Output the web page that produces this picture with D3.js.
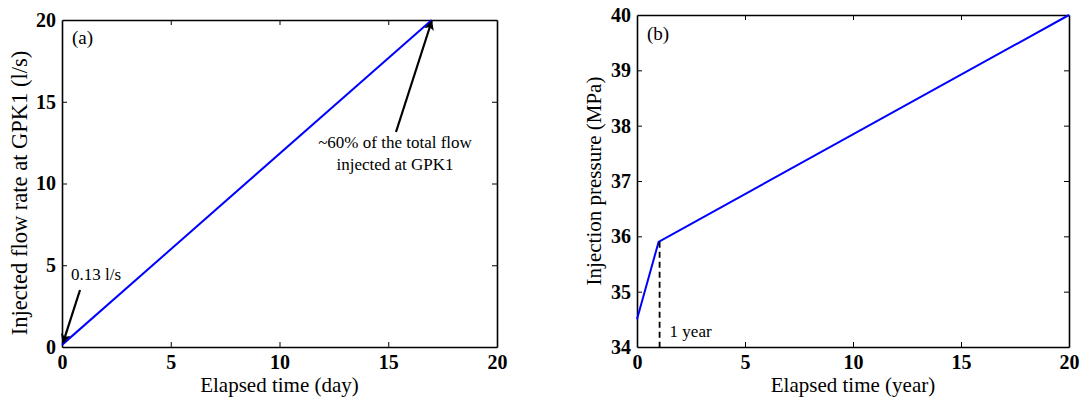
<!DOCTYPE html>
<html>
<head>
<meta charset="utf-8">
<script src="https://d3js.org/d3.v7.min.js"></script>
<style>
  body { margin: 0; background: #fff; }
  svg { display: block; }
  svg text { font-family: "Liberation Serif", "Times New Roman", serif; fill: #000; }
</style>
</head>
<body>
<svg id="fig" width="1083" height="398"></svg>
<script>
// Panel (a): injected flow rate at GPK1 vs elapsed time (days)
const flowDays = [0, 17];
const flowRate = [0.13, 20];
// Panel (b): injection pressure vs elapsed time (years)
const pressYears = [0, 1, 20];
const pressMPa = [34.5, 35.9, 40];
const kinkYear = 1;

const xTicks = [0, 5, 10, 15, 20];
const flowTicks = [0, 5, 10, 15, 20];
const pressTicks = [34, 35, 36, 37, 38, 39, 40];

const SERIF = "'Liberation Serif', 'Times New Roman', serif";
const svg = d3.select("#fig");

function panel(cfg) {
  const x = d3.scaleLinear().domain(cfg.xDomain).range([cfg.left, cfg.right]);
  const y = d3.scaleLinear().domain(cfg.yDomain).range([cfg.bottom, cfg.top]);
  const g = svg.append("g");
  const fmt = d3.format("d");

  // mirrored inner ticks on all four sides
  const tl = 5;
  const bottomAx = d3.axisBottom(x).tickValues(cfg.xTicks).tickFormat(fmt).tickSizeInner(-tl).tickSizeOuter(0).tickPadding(8);
  const topAx = d3.axisTop(x).tickValues(cfg.xTicks).tickSizeInner(-tl).tickSizeOuter(0).tickFormat("");
  const leftAx = d3.axisLeft(y).tickValues(cfg.yTicks).tickFormat(fmt).tickSizeInner(-tl).tickSizeOuter(0).tickPadding(6);
  const rightAx = d3.axisRight(y).tickValues(cfg.yTicks).tickSizeInner(-tl).tickSizeOuter(0).tickFormat("");

  const gb = g.append("g").attr("transform", `translate(0,${cfg.bottom})`).call(bottomAx);
  const gt = g.append("g").attr("transform", `translate(0,${cfg.top})`).call(topAx);
  const gl = g.append("g").attr("transform", `translate(${cfg.left},0)`).call(leftAx);
  const gr = g.append("g").attr("transform", `translate(${cfg.right},0)`).call(rightAx);
  [gb, gt, gl, gr].forEach(a => {
    a.attr("font-family", SERIF).attr("font-size", 20).attr("font-weight", "bold");
    a.select(".domain").attr("stroke", "#000").attr("stroke-width", 1.6);
    a.selectAll(".tick line").attr("stroke", "#000").attr("stroke-width", 1);
    a.selectAll(".tick text").attr("fill", "#000");
  });
  // drop ticks that would sit on the frame corners
  [gb, gt].forEach(a => a.selectAll(".tick line").filter(d => d === cfg.xDomain[0] || d === cfg.xDomain[1]).remove());
  [gl, gr].forEach(a => a.selectAll(".tick line").filter(d => d === cfg.yDomain[0] || d === cfg.yDomain[1]).remove());

  // axis labels
  g.append("text")
    .attr("x", (cfg.left + cfg.right) / 2).attr("y", 392)
    .attr("text-anchor", "middle").attr("font-size", 21)
    .text(cfg.xLabel);
  g.append("text")
    .attr("transform", `translate(${cfg.yLabelX},${cfg.yLabelY}) rotate(-90)`)
    .attr("text-anchor", "middle").attr("font-size", cfg.yLabelSize)
    .text(cfg.yLabel);

  // panel tag
  g.append("text")
    .attr("x", cfg.left + 10).attr("y", cfg.tagY)
    .attr("font-size", 19).text(cfg.tag);

  // data line
  const pts = cfg.xs.map((v, i) => [v, cfg.ys[i]]);
  g.append("path")
    .datum(pts)
    .attr("fill", "none").attr("stroke", "#0000ff").attr("stroke-width", 2)
    .attr("d", d3.line().x(d => x(d[0])).y(d => y(d[1])));

  return { g, x, y };
}

// arrowhead marker
svg.append("defs").append("marker")
  .attr("id", "head").attr("viewBox", "0 0 10 10")
  .attr("refX", 9).attr("refY", 5)
  .attr("markerWidth", 5.5).attr("markerHeight", 4.5)
  .attr("markerUnits", "strokeWidth")
  .attr("orient", "auto")
  .append("path").attr("d", "M0,0 L10,5 L0,10 L2.5,5 Z").attr("fill", "#000");

const a = panel({
  left: 62, right: 497, top: 20, bottom: 347,
  xDomain: [0, 20], yDomain: [0, 20],
  xTicks: xTicks, yTicks: flowTicks,
  xs: flowDays, ys: flowRate,
  xLabel: "Elapsed time (day)",
  yLabel: "Injected flow rate at GPK1 (l/s)",
  yLabelX: 27, yLabelY: 193, yLabelSize: 22.5,
  tag: "(a)", tagY: 44
});

// annotation: starting flow rate
a.g.append("line")
  .attr("x1", 80).attr("y1", 290)
  .attr("x2", a.x(flowDays[0]) + 1).attr("y2", a.y(flowRate[0]) - 2)
  .attr("stroke", "#000").attr("stroke-width", 2.2)
  .attr("marker-end", "url(#head)");
a.g.append("text")
  .attr("x", 71).attr("y", 280)
  .attr("font-size", 17).text("0.13 l/s");

// annotation: end of ramp
const endIdx = flowDays.length - 1;
a.g.append("line")
  .attr("x1", 396).attr("y1", 132)
  .attr("x2", a.x(flowDays[endIdx])).attr("y2", a.y(flowRate[endIdx]) + 1)
  .attr("stroke", "#000").attr("stroke-width", 2.2)
  .attr("marker-end", "url(#head)");
a.g.append("text")
  .attr("x", 395).attr("y", 148)
  .attr("text-anchor", "middle").attr("font-size", 17)
  .text("~60% of the total flow");
a.g.append("text")
  .attr("x", 395).attr("y", 170)
  .attr("text-anchor", "middle").attr("font-size", 17)
  .text("injected at GPK1");

const b = panel({
  left: 637, right: 1069, top: 15, bottom: 347,
  xDomain: [0, 20], yDomain: [34, 40],
  xTicks: xTicks, yTicks: pressTicks,
  xs: pressYears, ys: pressMPa,
  xLabel: "Elapsed time (year)",
  yLabel: "Injection pressure (MPa)",
  yLabelX: 601, yLabelY: 181, yLabelSize: 21,
  tag: "(b)", tagY: 40
});

// dashed marker at the end of the first year
b.g.append("line")
  .attr("x1", b.x(kinkYear) + 1).attr("x2", b.x(kinkYear) + 1)
  .attr("y1", b.y(pressMPa[1])).attr("y2", b.y(34))
  .attr("stroke", "#000").attr("stroke-width", 1.8)
  .attr("stroke-dasharray", "6,4");
b.g.append("text")
  .attr("x", b.x(kinkYear) + 11).attr("y", 337)
  .attr("font-size", 17).text("1 year");
</script>
</body>
</html>
